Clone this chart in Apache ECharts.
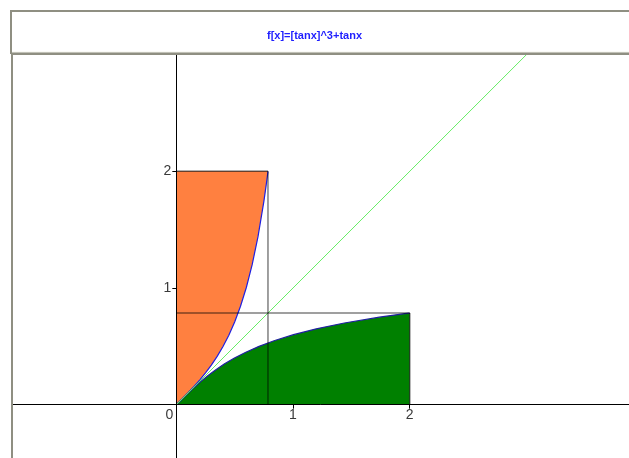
<!DOCTYPE html>
<html>
<head>
<meta charset="utf-8">
<script src="https://cdn.jsdelivr.net/npm/echarts@6/dist/echarts.min.js"></script>
<style>
html,body{margin:0;padding:0;background:#fff;}
#chart{width:629px;height:458px;}
</style>
</head>
<body>
<div id="chart"></div>
<script>
// Data: f(x) = (tan x)^3 + tan x on [0, pi/4]
const titleText = 'f[x]=[tanx]^3+tanx';
const angles  = [0, 0.05, 0.1, 0.15, 0.2, 0.25, 0.3, 0.35, 0.4, 0.45, 0.5, 0.55, 0.6, 0.65, 0.7, 0.75, 0.77, 0.78, 0.7854];
const fValues = [0, 0.0502, 0.1013, 0.1546, 0.2110, 0.2720, 0.3389, 0.4137, 0.4984, 0.5958, 0.7093, 0.8436, 1.0044, 1.1995, 1.4399, 1.7401, 1.8814, 1.9574, 2.0];
const xTickLabels = [0, 1, 2];
const yTickLabels = [1, 2];
const quarterPi = 0.7854;
const fTop = 2;
const diagonal = [[0, 0], [3.9, 3.9]];
const xRange = [-1.408, 3.879];
const yRange = [-0.457, 2.997];

const curve = angles.map((a, i) => [a, fValues[i]]);
const inverseCurve = angles.map((a, i) => [fValues[i], a]);

const orangePoly = [[0, 0]].concat(curve).concat([[0, fTop]]);
const greenPoly = [[0, 0]].concat(inverseCurve).concat([[fTop, 0]]);

// layout
const W = 629, H = 458;
const gridBox = { left: 12, right: 0, top: 55, bottom: 0 };
const gridW = W - gridBox.left - gridBox.right;
const gridH = H - gridBox.top - gridBox.bottom;
// pixel distance from grid edges to the zero lines (for placing axes on zero)
const xAxisOffset = -gridH * (0 - yRange[0]) / (yRange[1] - yRange[0]);
const yAxisOffset = -gridW * (0 - xRange[0]) / (xRange[1] - xRange[0]);

function polySeries(points, color) {
  return {
    type: 'custom',
    silent: true,
    animation: false,
    z: 1,
    data: [[0, 0]],
    renderItem: function (params, api) {
      return {
        type: 'polygon',
        shape: { points: points.map(p => api.coord(p)) },
        style: { fill: color, stroke: null }
      };
    }
  };
}

function lineSeries(data, color, width, z) {
  return {
    type: 'line',
    data: data,
    symbol: 'none',
    silent: true,
    animation: false,
    clip: true,
    z: z,
    lineStyle: { color: color, width: width }
  };
}

const font = 'Liberation Sans, Arial, sans-serif';
const chart = echarts.init(document.getElementById('chart'), null, { renderer: 'canvas' });
const frameColor = '#8f8f82';
chart.setOption({
  backgroundColor: '#ffffff',
  animation: false,
  title: {
    text: titleText,
    left: 'center',
    top: 25,
    textStyle: { color: '#1f1fff', fontSize: 11, fontWeight: 'bold', fontFamily: font }
  },
  graphic: [
    { type: 'rect', shape: { x: 11, y: 11, width: 640, height: 42 }, style: { fill: null, stroke: frameColor, lineWidth: 2 }, z: 100 },
    { type: 'line', shape: { x1: 12, y1: 52, x2: 640, y2: 52 }, style: { stroke: '#f4f4ec', lineWidth: 1 }, z: 100 },
    { type: 'line', shape: { x1: 12, y1: 54, x2: 640, y2: 54 }, style: { stroke: frameColor, lineWidth: 2 }, z: 100 },
    { type: 'line', shape: { x1: 12, y1: 54, x2: 12, y2: 470 }, style: { stroke: frameColor, lineWidth: 2 }, z: 100 }
  ],
  grid: { left: gridBox.left, right: gridBox.right, top: gridBox.top, bottom: gridBox.bottom, containLabel: false, outerBoundsMode: 'none' },
  xAxis: {
    type: 'value',
    min: xRange[0],
    max: xRange[1],
    position: 'bottom',
    offset: xAxisOffset,
    z: 10,
    axisLine: { onZero: false, lineStyle: { color: '#000', width: 1 } },
    axisTick: { show: true, length: 4, customValues: [1, 2], lineStyle: { color: '#000' } },
    axisLabel: {
      customValues: xTickLabels,
      margin: 3,
      color: '#3a3a3a',
      fontSize: 14,
      fontFamily: font,
      formatter: function (v) { return v === 0 ? '{z|0}' : String(v); },
      rich: { z: { padding: [0, 14, 0, 0], fontSize: 14, color: '#3a3a3a', fontFamily: font } }
    },
    splitLine: { show: false }
  },
  yAxis: {
    type: 'value',
    min: yRange[0],
    max: yRange[1],
    position: 'left',
    offset: yAxisOffset,
    z: 10,
    axisLine: { onZero: false, lineStyle: { color: '#000', width: 1 } },
    axisTick: { show: true, length: 4, customValues: yTickLabels, lineStyle: { color: '#000' } },
    axisLabel: {
      customValues: yTickLabels,
      margin: 5,
      color: '#3a3a3a',
      fontSize: 14,
      fontFamily: font
    },
    splitLine: { show: false }
  },
  series: [
    polySeries(orangePoly, '#ff8040'),
    polySeries(greenPoly, '#008000'),
    lineSeries(curve, '#2020e0', 1.2, 3),
    lineSeries(inverseCurve, '#2020a0', 1.2, 3),
    lineSeries(diagonal, '#66ee66', 1, 4),
    lineSeries([[0, quarterPi], [fTop, quarterPi]], 'rgba(0,0,0,0.5)', 1.5, 5),
    lineSeries([[fTop, 0], [fTop, quarterPi]], 'rgba(0,0,0,0.6)', 1.5, 5),
    lineSeries([[quarterPi, 0], [quarterPi, fTop]], 'rgba(0,0,0,0.5)', 1.5, 5),
    lineSeries([[0, fTop], [quarterPi, fTop]], 'rgba(0,0,0,0.6)', 1.5, 5)
  ]
});
</script>
</body>
</html>
